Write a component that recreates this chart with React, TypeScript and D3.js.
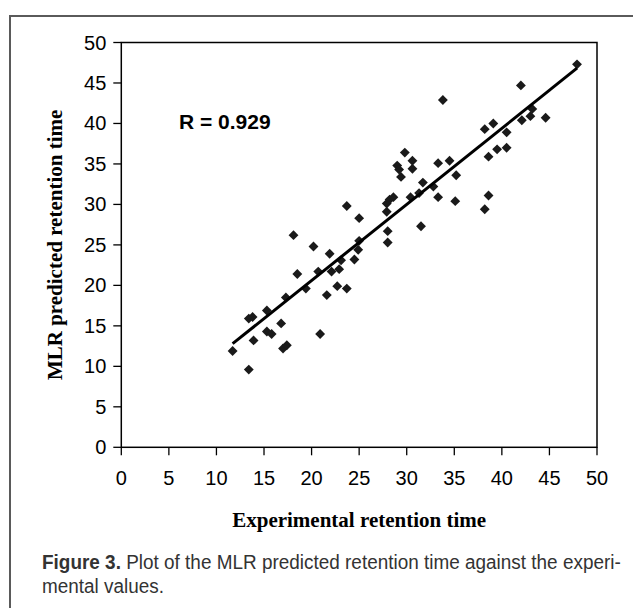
import React, { useLayoutEffect, useRef, useState } from "react";
import * as d3 from "d3";

const expX = [11.7, 13.4, 13.4, 13.8, 13.9, 15.3, 15.3, 15.8, 16.8, 17.0, 17.4, 17.3, 18.1, 18.5, 19.4, 20.2, 20.7, 20.9, 21.6, 21.9, 22.1, 22.7, 22.9, 23.1, 23.7, 23.7, 24.5, 24.9, 25.0, 25.0, 27.9, 28.2, 27.9, 28.0, 28.0, 28.6, 29.0, 29.2, 29.4, 29.8, 30.6, 30.6, 30.4, 31.3, 31.7, 31.5, 32.8, 33.3, 33.3, 33.8, 34.5, 35.2, 35.1, 38.2, 38.6, 38.6, 38.2, 39.1, 39.5, 40.5, 40.5, 42.0, 42.1, 43.0, 43.2, 44.6, 47.9];
const predY = [11.9, 9.6, 15.9, 16.1, 13.2, 16.9, 14.3, 14.0, 15.3, 12.2, 12.6, 18.5, 26.2, 21.4, 19.6, 24.8, 21.7, 14.0, 18.8, 23.9, 21.7, 19.9, 22.0, 23.1, 19.6, 29.8, 23.2, 24.4, 25.5, 28.3, 30.1, 30.6, 29.1, 26.7, 25.3, 30.9, 34.8, 34.3, 33.4, 36.4, 35.4, 34.4, 30.9, 31.4, 32.7, 27.3, 32.2, 35.1, 30.9, 42.9, 35.4, 33.6, 30.4, 29.4, 31.1, 35.9, 39.3, 40.0, 36.8, 37.0, 38.9, 44.7, 40.4, 40.9, 41.8, 40.7, 47.3];
const ticks = [0, 5, 10, 15, 20, 25, 30, 35, 40, 45, 50];
const fitSlope = [0.94];
const fitIntercept = [1.8];
const rLabel = "R = 0.929";
const xTitle = "Experimental retention time";
const yTitle = "MLR predicted retention time";
const captionBold = "Figure 3.";
const captionLine1 = " Plot of the MLR predicted retention time against the experi-";
const captionLine2 = "mental values.";

export default function App() {
  const left = 121.3, right = 597, top = 42.5, bottom = 447.3;
  const x = d3.scaleLinear().domain([0, 50]).range([left, right]);
  const y = d3.scaleLinear().domain([0, 50]).range([bottom, top]);
  const xMin = d3.min(expX) as number;
  const xMax = d3.max(expX) as number;
  const fitPts: [number, number][] = [xMin, xMax].map((v) => [x(v), y(fitIntercept[0] + fitSlope[0] * v)]);
  const line = d3.line();
  const diamond = d3.symbol().type(d3.symbolDiamond2).size(62)();
  const sans = "'Liberation Sans', Arial, sans-serif";
  const serif = "'Liberation Serif', 'Times New Roman', serif";
  const capFont = "'Liberation Sans', Arial, sans-serif";
  const capRef = useRef<SVGTextElement | null>(null);
  const [sx, setSx] = useState(0.8);
  const capWidth = 579;
  useLayoutEffect(() => {
    if (capRef.current) {
      const len = capRef.current.getComputedTextLength();
      if (len > 0) setSx(capWidth / len);
    }
  }, []);
  return (
    <svg width={633} height={608} style={{ position: "absolute", left: 0, top: 0, background: "#fff" }}>
      <rect x={0} y={0} width={633} height={608} fill="#fff" />
      <path d="M10,640 L10,16 L660,16" fill="none" stroke="#5a5a5a" strokeWidth={2} />
      <rect x={left} y={top} width={right - left} height={bottom - top} fill="none" stroke="#000" strokeWidth={1.5} />
      {ticks.map((t) => (
        <g key={"y" + t}>
          <line x1={left - 8} x2={left} y1={y(t)} y2={y(t)} stroke="#000" strokeWidth={1.3} />
          <text x={left - 15} y={y(t) + 7} textAnchor="end" fontFamily={sans} fontSize={20} fill="#000">{t}</text>
        </g>
      ))}
      {ticks.map((t) => (
        <g key={"x" + t}>
          <line x1={x(t)} x2={x(t)} y1={bottom} y2={bottom + 8} stroke="#000" strokeWidth={1.3} />
          <text x={x(t)} y={bottom + 38} textAnchor="middle" fontFamily={sans} fontSize={20} fill="#000">{t}</text>
        </g>
      ))}
      {expX.map((v, i) => (
        <path key={i} d={diamond as string} transform={`translate(${x(v)},${y(predY[i])})`} fill="#1a1a1a" />
      ))}
      <path d={line(fitPts) as string} stroke="#000" strokeWidth={3} fill="none" />
      <text x={179} y={129} fontFamily={sans} fontWeight="bold" fontSize={21} fill="#000">{rLabel}</text>
      <text x={(left + right) / 2} y={527} textAnchor="middle" fontFamily={serif} fontWeight="bold" fontSize={21} fill="#000">{xTitle}</text>
      <text transform={`translate(62,${(top + bottom) / 2}) rotate(-90)`} textAnchor="middle" fontFamily={serif} fontWeight="bold" fontSize={21} fill="#000">{yTitle}</text>
      <g transform={`translate(42,569) scale(${sx},1)`}>
        <text ref={capRef} x={0} y={0} fontFamily={capFont} fontSize={20} fill="#333">
          <tspan fontWeight="bold">{captionBold}</tspan>
          <tspan>{captionLine1}</tspan>
        </text>
      </g>
      <g transform={`translate(42,593) scale(${sx},1)`}>
        <text x={0} y={0} fontFamily={capFont} fontSize={20} fill="#333">{captionLine2}</text>
      </g>
    </svg>
  );
}
